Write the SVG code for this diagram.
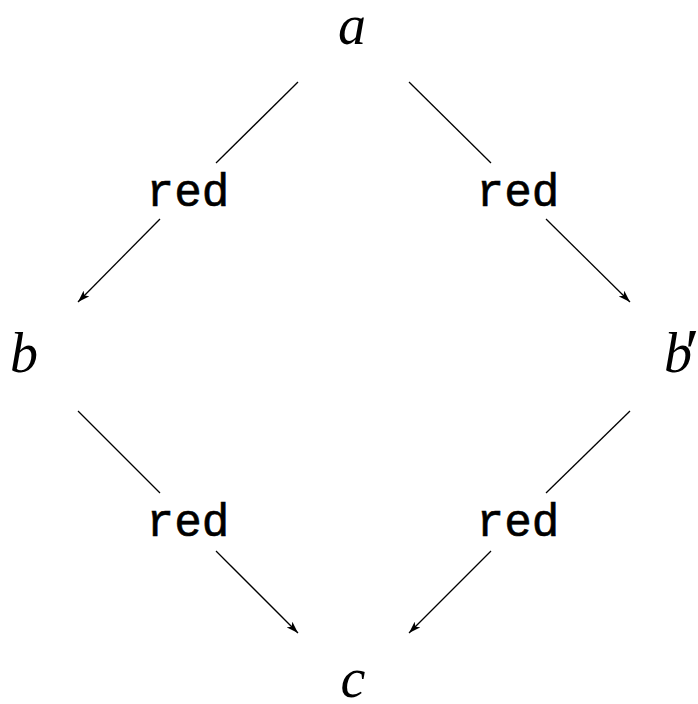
<svg xmlns="http://www.w3.org/2000/svg" width="698" height="704" viewBox="0 0 698 704">
<style>
.node{font-family:"Liberation Serif","DejaVu Serif",serif;font-style:italic;font-size:56px;fill:#000}
.lbl{font-family:"Liberation Mono","DejaVu Sans Mono",monospace;font-size:46px;fill:#000;stroke:#000;stroke-width:0.6}
.edge{stroke:#000;stroke-width:1.3;fill:none}
</style>
<defs>
<marker id="ah" viewBox="0 0 12 8" refX="12" refY="4" markerWidth="12" markerHeight="8" markerUnits="userSpaceOnUse" orient="auto">
<path d="M0,0 L12,4 L0,8 L3,4 Z" fill="#000"/>
</marker>
</defs>
<rect width="698" height="704" fill="#fff"/>
<g id="connectors">
<line class="edge" x1="298" y1="82" x2="216" y2="163"/>
<line class="edge" x1="160" y1="219" x2="78" y2="302" marker-end="url(#ah)"/>
<line class="edge" x1="409" y1="82" x2="491" y2="163"/>
<line class="edge" x1="546" y1="219" x2="630" y2="302" marker-end="url(#ah)"/>
<line class="edge" x1="78" y1="411" x2="160" y2="493"/>
<line class="edge" x1="216" y1="551" x2="298" y2="633" marker-end="url(#ah)"/>
<line class="edge" x1="630" y1="411" x2="546" y2="493"/>
<line class="edge" x1="491" y1="551" x2="409" y2="633" marker-end="url(#ah)"/>
</g>
<g id="label-ab"><text class="lbl" x="188" y="206" text-anchor="middle">red</text></g>
<g id="label-ab2"><text class="lbl" x="518" y="206" text-anchor="middle">red</text></g>
<g id="label-bc"><text class="lbl" x="188" y="536" text-anchor="middle">red</text></g>
<g id="label-b2c"><text class="lbl" x="518" y="536" text-anchor="middle">red</text></g>
<g id="node-a"><text class="node" x="352" y="44" text-anchor="middle">a</text></g>
<g id="node-b"><text class="node" x="24" y="372" text-anchor="middle">b</text></g>
<g id="node-b2"><text class="node" x="664" y="372">b<tspan x="685" y="374" font-style="normal" font-size="66">′</tspan></text></g>
<g id="node-c"><text class="node" x="353" y="697" text-anchor="middle">c</text></g>
</svg>
